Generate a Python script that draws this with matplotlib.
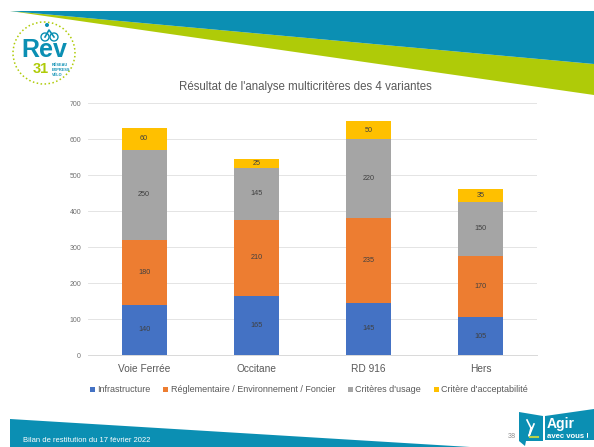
import matplotlib
matplotlib.use("Agg")
import matplotlib.pyplot as plt
from matplotlib.patches import Polygon, Circle

plt.rcParams["font.family"] = ["Liberation Sans", "DejaVu Sans"]

# =====================================================
# DATA
# =====================================================

variants = ["Voie Ferrée", "Occitane", "RD 916", "Hers"]
infrastructure = [140, 165, 145, 105]
reglementaire = [180, 210, 235, 170]
usage = [250, 145, 220, 150]
acceptabilite = [60, 25, 50, 35]

series_names = [
    "Infrastructure",
    "Réglementaire / Environnement / Foncier",
    "Critères d'usage",
    "Critère d'acceptabilité",
]
series_colors = ["#4472c4", "#ed7d31", "#a5a5a5", "#ffc000"]
y_ticks = [0, 100, 200, 300, 400, 500, 600, 700]

TEAL = "#0b8fb3"
GREEN = "#afcb08"

fig = plt.figure(figsize=(5.94, 4.47), dpi=100)

# =====================================================
# SLIDE DECORATION (pixel coordinates)
# =====================================================

bg = fig.add_axes([0, 0, 1, 1])
bg.set_xlim(0, 594)
bg.set_ylim(447, 0)
bg.axis("off")

bg.add_patch(Polygon([(10, 11), (594, 95), (594, 64)], color=GREEN, lw=0))
bg.add_patch(Polygon([(10, 11), (594, 11), (594, 64)], color=TEAL, lw=0))
bg.add_patch(Polygon([(10, 419), (470, 447), (10, 447)], color=TEAL, lw=0))

# logo Rev 31
bg.add_patch(Circle((44, 53), 31, fill=False, ec=GREEN, lw=1.1, ls=(0, (1, 1.6))))
bg.add_patch(Circle((45, 37), 4, fill=False, ec=TEAL, lw=1))
bg.add_patch(Circle((54, 37), 4, fill=False, ec=TEAL, lw=1))
bg.plot([45, 49, 54], [37, 30, 37], color=TEAL, lw=1.2)
bg.add_patch(Circle((47, 25), 2, color=TEAL, lw=0))
bg.text(44.5, 50, "Rev", color=TEAL, fontsize=18, fontweight="bold", ha="center", va="center")
bg.text(41, 69, "31", color=GREEN, fontsize=10.5, fontweight="bold", ha="center", va="center")
bg.text(52, 70, "RÉSEAU\nEXPRESS\nVÉLO", color=TEAL, fontsize=2.8, fontweight="bold",
        ha="left", va="center", linespacing=1.2)

# logo Agir
bg.add_patch(Polygon([(519, 412), (543, 416), (543, 441), (526, 441), (525, 446), (519, 441)],
                     color=TEAL, lw=0))
bg.add_patch(Polygon([(545, 416), (594, 409), (594, 440), (545, 440)], color=TEAL, lw=0))
bg.plot([527, 531, 529, 534], [420, 428, 436, 424], color="white", lw=1.2)
bg.plot([530, 538], [437, 437], color="#b8d24a", lw=1.5)
bg.text(547, 424, "Agir", color="white", fontsize=10, fontweight="bold", va="center")
bg.text(547, 436, "avec vous !", color="white", fontsize=5.6, fontweight="bold", va="center")

bg.text(23, 441, "Bilan de restitution du 17 février 2022", color="white", fontsize=5.5, va="center")
bg.text(512, 436, "38", color="#8c8c8c", fontsize=5.2, ha="center", va="center")

# =====================================================
# STACKED BARS
# =====================================================

ax = fig.add_axes([88 / 594, 1 - 355 / 447, 449 / 594, 252 / 447])
ax.patch.set_alpha(0)

series = [infrastructure, reglementaire, usage, acceptabilite]
bottom = [0, 0, 0, 0]
x = list(range(len(variants)))

for values, name, color in zip(series, series_names, series_colors):
    bars = ax.bar(x, values, width=0.4, bottom=bottom, color=color, label=name, zorder=3)
    ax.bar_label(bars, label_type="center", fontsize=5.2, color="#404040")
    bottom = [b + v for b, v in zip(bottom, values)]

ax.set_xlim(-0.5, 3.5)
ax.set_ylim(0, 700)
ax.set_yticks(y_ticks)
ax.set_xticks(x, variants)
ax.tick_params(axis="y", length=0, labelsize=5, labelcolor="#707070", pad=5)
ax.tick_params(axis="x", length=0, labelsize=7.3, labelcolor="#595959", pad=6.3)
ax.grid(axis="y", color="#e4e4e4", lw=0.7, zorder=0)
ax.set_axisbelow(True)
for side in ["top", "right", "left"]:
    ax.spines[side].set_visible(False)
ax.spines["bottom"].set_color("#d9d9d9")
ax.spines["bottom"].set_linewidth(0.7)

ax.legend(
    loc="center",
    bbox_to_anchor=(309 / 594, 1 - 390 / 447),
    bbox_transform=fig.transFigure,
    ncol=4,
    frameon=False,
    fontsize=6.5,
    labelcolor="#595959",
    handlelength=0.55,
    handleheight=0.55,
    handletextpad=0.25,
    columnspacing=1.45,
)

fig.text(305 / 594, 1 - 87 / 447, "Résultat de l'analyse multicritères des 4 variantes",
         ha="center", va="center", fontsize=8.3, color="#595959")

fig.savefig("out.png", dpi=100)
